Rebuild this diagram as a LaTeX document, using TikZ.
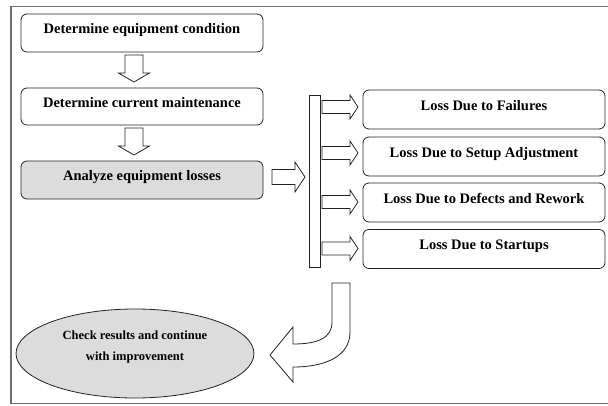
\documentclass[tikz,border=0pt]{standalone}
\usepackage{fontspec}
\setmainfont{Liberation Serif}
\usetikzlibrary{shapes.geometric}
\definecolor{boxgray}{HTML}{DCDCDC}
\definecolor{framegray}{HTML}{6E6E6E}
\definecolor{edge}{HTML}{222222}
\begin{document}
\begin{tikzpicture}[x=1pt,y=-1pt,
  stepbox/.style={draw=edge,line width=0.8pt,rounded corners=6pt,minimum width=242pt,minimum height=38pt,
    font=\fontsize{14.5}{16}\selectfont\bfseries,inner sep=0pt,text height=10pt,text depth=9pt},
  lossbox/.style={stepbox,minimum height=39pt},
  blockarrow/.style={draw=edge,line width=0.8pt,fill=white,line join=miter}]
\useasboundingbox (0,0) rectangle (608,405);
\clip (0,0) rectangle (608,405);
% outer frame (right side cut off)
\draw[framegray,line width=1.3pt] (615,6.5) -- (11,6.5) -- (11,403.5) -- (615,403.5);

% left column
\node[stepbox] (b1) at (142,33) {Determine equipment condition};
\node[stepbox,minimum height=37pt] (b2) at (142,106.5) {Determine current maintenance};
\node[stepbox,fill=boxgray] (b3) at (142,180) {Analyze equipment losses};

% down arrows
\draw[blockarrow] (125,55) -- (143,55) -- (143,73) -- (149.5,73) -- (134,82) -- (118.5,73) -- (125,73) -- cycle;
\draw[blockarrow] (125,128) -- (143,128) -- (143,146) -- (149.5,146) -- (134,155) -- (118.5,146) -- (125,146) -- cycle;

% right arrow from b3 to bar
\draw[blockarrow] (272,169.5) -- (295,169.5) -- (295,162) -- (305,177) -- (295,192) -- (295,184.5) -- (272,184.5) -- cycle;

% vertical bar
\node[draw=edge,line width=0.8pt,fill=white,minimum width=11pt,minimum height=172pt,inner sep=0pt] (bar) at (314.5,181) {};

% right column
\node[lossbox] (l1) at (484,109.5) {Loss Due to Failures};
\node[lossbox] (l2) at (484,156.5) {Loss Due to Setup Adjustment};
\node[lossbox] (l3) at (484,202.5) {Loss Due to Defects and Rework};
\node[lossbox] (l4) at (484,249) {Loss Due to Startups};

% small arrows from bar to loss boxes
\foreach \cy in {107,153,202,248.5}{
  \draw[blockarrow] (322,\cy-6.5) -- (350,\cy-6.5) -- (350,\cy-12) -- (358,\cy) -- (350,\cy+12) -- (350,\cy+6.5) -- (322,\cy+6.5) -- cycle;
}

% curved return arrow
\draw[blockarrow] (332,283) -- (350,283) -- (350,332)
  .. controls (350,356) and (326,367) .. (293,367)
  -- (293,382) -- (270,355) -- (293,327) -- (293,344)
  .. controls (318,344) and (332,338) .. (332,322) -- cycle;

% final ellipse
\node[ellipse,draw=edge,line width=0.8pt,fill=boxgray,minimum width=238pt,minimum height=89pt,inner sep=0pt] (check) at (135,353.5) {};
\node[font=\fontsize{12.5}{21}\selectfont\bfseries,align=center,inner sep=0pt] (checktxt) at ([yshift=7pt]check.center) {Check results and continue\\with improvement};
\end{tikzpicture}
\end{document}
